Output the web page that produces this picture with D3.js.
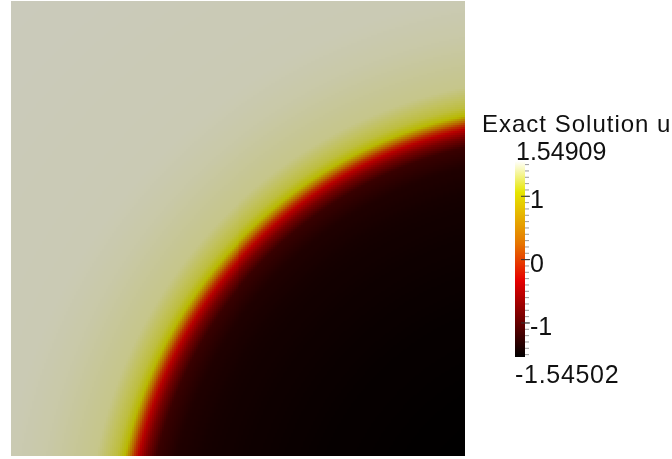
<!DOCTYPE html>
<html>
<head>
<meta charset="utf-8">
<script src="https://cdn.jsdelivr.net/npm/d3@7"></script>
<style>
  body { margin: 0; background: #ffffff; }
  #wrap { position: relative; width: 672px; height: 459px; overflow: hidden; }
  #wrap canvas, #wrap svg { position: absolute; left: 0; top: 0; }
  text { font-family: "Liberation Sans", Arial, sans-serif; fill: #111111; }
</style>
</head>
<body>
<div id="wrap">
  <canvas id="field" width="672" height="459"></canvas>
  <svg id="chart" width="672" height="459"></svg>
</div>
<script>
// Exact solution u on the unit square: a radial profile about an off-domain centre.
const fieldCenter = [1.2, -0.2];
// Radial samples of u (distance from the centre, in domain units)
const profileRadius = [0.289, 0.557, 0.700, 0.795, 0.859, 0.901, 0.923, 0.940, 0.950, 0.955, 0.969, 0.987, 1.031, 1.139, 1.222, 1.705];
const profileU      = [-1.545, -1.499, -1.452, -1.409, -1.335, -1.168, -0.772, -0.338, 0.002, 0.250, 1.054, 1.209, 1.390, 1.460, 1.490, 1.510];

// Data range shown on the colour legend
const uRange = [-1.54502, 1.54909];
const rangeLabels = ["1.54909", "-1.54502"];
const majorTicks = [-1, 0, 1];
const majorLabels = ["-1", "0", "1"];
const minorTicks = d3.range(-15, 16).map(d => d / 10);

// Black-body radiation colour map (positions are fractions of the data range)
const colorStops = [0, 0.39, 0.58, 0.84, 1];
const colorValues = ["#000000", "#e60000", "#e67600", "#e6e600", "#ffffff"];

const legendTitle = "Exact Solution u";
const meshCells = 228;
const surfaceShade = 0.8;

// ---- scales ----
const x = d3.scaleLinear().domain([0, 1]).range([11, 465]);
const y = d3.scaleLinear().domain([0, 1]).range([456, 1]);
const radial = d3.scaleLinear().domain(profileRadius).range(profileU).clamp(true);
const stopValues = colorStops.map(s => uRange[0] + s * (uRange[1] - uRange[0]));
const color = d3.scaleLinear().domain(stopValues).range(colorValues)
  .interpolate(d3.interpolateRgb).clamp(true);

// ---- field ----
const ctx = document.getElementById("field").getContext("2d");
for (let i = 0; i < meshCells; i++) {
  const xa = x(i / meshCells), xb = x((i + 1) / meshCells);
  const xm = (i + 0.5) / meshCells;
  for (let j = 0; j < meshCells; j++) {
    const ya = y((j + 1) / meshCells), yb = y(j / meshCells);
    const ym = (j + 0.5) / meshCells;
    const r = Math.hypot(fieldCenter[0] - xm, ym - fieldCenter[1]);
    const c = d3.rgb(color(radial(r)));
    ctx.fillStyle = d3.rgb(c.r * surfaceShade, c.g * surfaceShade, c.b * surfaceShade).toString();
    ctx.fillRect(Math.floor(xa), Math.floor(ya), Math.ceil(xb) - Math.floor(xa), Math.ceil(yb) - Math.floor(ya));
  }
}

// ---- colour legend ----
const svg = d3.select("#chart");
const bar = { x: 515, w: 10 };
const barY = d3.scaleLinear().domain(uRange).range([357, 161]);

const grad = svg.append("defs").append("linearGradient")
  .attr("id", "bbr").attr("x1", 0).attr("y1", 1).attr("x2", 0).attr("y2", 0);
grad.selectAll("stop").data(colorStops).join("stop")
  .attr("offset", d => d)
  .attr("stop-color", (d, i) => colorValues[i]);

svg.append("rect")
  .attr("x", bar.x).attr("y", barY(uRange[1]))
  .attr("width", bar.w).attr("height", barY(uRange[0]) - barY(uRange[1]))
  .attr("fill", "url(#bbr)");

const minorAxis = svg.append("g")
  .attr("transform", `translate(${bar.x + bar.w},0)`)
  .call(d3.axisRight(barY).tickValues(minorTicks).tickSize(4).tickFormat(""));
minorAxis.select(".domain").remove();
minorAxis.selectAll("line").attr("stroke", "#9a9a9a");

const majorAxis = svg.append("g")
  .attr("transform", `translate(${bar.x + bar.w - 4},0)`)
  .call(d3.axisRight(barY).tickValues(majorTicks).tickSize(9).tickFormat(""));
majorAxis.select(".domain").remove();
majorAxis.selectAll("line").attr("stroke", "#333333");

svg.selectAll("text.major").data(majorTicks).join("text")
  .attr("class", "major")
  .attr("x", 530).attr("y", d => barY(d) + 12.5)
  .attr("font-size", 25)
  .text((d, i) => majorLabels[i]);

svg.append("text").attr("x", 516).attr("y", 160).attr("font-size", 25).text(rangeLabels[0]);
svg.append("text").attr("x", 515).attr("y", 383).attr("font-size", 25)
  .attr("letter-spacing", 0.7).text(rangeLabels[1]);
svg.append("text").attr("x", 482).attr("y", 132).attr("font-size", 24)
  .attr("letter-spacing", 1).text(legendTitle);
</script>
</body>
</html>
